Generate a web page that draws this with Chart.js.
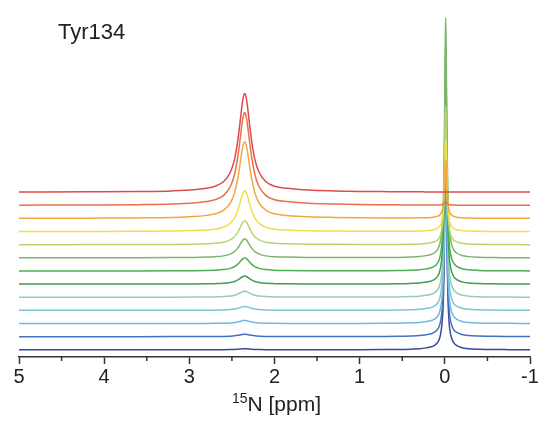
<!DOCTYPE html>
<html>
<head>
<meta charset="utf-8">
<title>Tyr134</title>
<script src="https://cdn.jsdelivr.net/npm/chart.js@4.4.1/dist/chart.umd.min.js"></script>
<style>
    html, body { margin: 0; padding: 0; background: #ffffff; }
    #wrap { width: 543px; height: 424px; }
</style>
</head>
<body>
<div id="wrap"><canvas id="spectra" width="543" height="424"></canvas></div>
<script>
// Chemical shift grid (ppm), shared by every trace
const ppm = [
    5.0, 4.2, 3.6, 3.2, 2.95, 2.8, 2.7, 2.6, 2.52, 2.47, 2.43, 2.40, 2.38, 2.36, 2.35,
    2.34, 2.32, 2.30, 2.27, 2.23, 2.18, 2.10, 2.0, 1.85, 1.6, 1.3, 1.0, 0.75, 0.55,
    0.4, 0.3, 0.22, 0.16, 0.12, 0.09, 0.065, 0.045, 0.03, 0.02, 0.01, 0.005, 0.0,
    -0.005, -0.01, -0.015, -0.02, -0.025, -0.035, -0.05, -0.07, -0.1, -0.14, -0.2,
    -0.28, -0.4, -0.55, -0.75, -1.0
];

// Line shape of the 2.35 ppm signal, normalised to its top
const shape235 = [
    0.002, 0.004, 0.007, 0.013, 0.024, 0.04, 0.06, 0.105, 0.2, 0.33, 0.53, 0.74, 0.89, 0.985, 1,
    0.985, 0.89, 0.74, 0.53, 0.33, 0.2, 0.105, 0.06, 0.04, 0.022, 0.013, 0.008, 0.006, 0.005,
    0.004, 0.004, 0.003, 0.003, 0.003, 0.003, 0.002, 0.002, 0.002, 0.002, 0.002, 0.002, 0.002,
    0.002, 0.002, 0.002, 0.002, 0.002, 0.002, 0.002, 0.002, 0.002, 0.001, 0.001,
    0.001, 0.001, 0.001, 0.001, 0.001
];

// Line shape of the 0 ppm signal, normalised to its top
const shape0 = [
    0, 0, 0, 0, 0, 0, 0, 0, 0, 0, 0, 0, 0, 0, 0,
    0, 0, 0, 0, 0, 0, 0, 0, 0, 0.0002, 0.0003, 0.0004, 0.0007, 0.0013,
    0.003, 0.005, 0.009, 0.014, 0.021, 0.032, 0.05, 0.085, 0.14, 0.21, 0.36, 0.5, 0.69,
    0.9, 1, 0.9, 0.69, 0.5, 0.27, 0.13, 0.07, 0.036, 0.02, 0.01,
    0.005, 0.0025, 0.0013, 0.0007, 0.0004
];

// Peak heights per trace, bottom (first) to top (last), in stack units
const height235 = [0.08, 0.19, 0.23, 0.3, 0.46, 0.61, 0.99, 1.44, 1.82, 3.11, 5.85, 7.06, 7.52];
const height0 = [16, 16, 16, 16, 16.5, 17.2, 17.5, 18.3, 10.6, 7, 4.5, 0.3, 0];

// vertical shift between neighbouring traces
const stackStep = 1;

const xTicksMajor = [5, 4, 3, 2, 1, 0, -1];
const xTicksMinor = [4.5, 3.5, 2.5, 1.5, 0.5, -0.5];

const traceColors = [
    '#3b4a96', '#4470c0', '#72b6e8', '#7cc4d4', '#8fd0b0', '#3e9e58', '#4caf50',
    '#7fb56e', '#bcd46e', '#eee045', '#f2a640', '#ec6f4a', '#dd4b4b'
];

const FONT = "'Liberation Sans', Arial, Helvetica, sans-serif";

// builds the points of one stacked trace
function buildTrace(i) {
    return ppm.map((x, k) => ({
        x: x,
        y: i * stackStep + height235[i] * shape235[k] + height0[i] * shape0[k]
    }));
}

const datasets = height0.map((h, i) => ({
    data: buildTrace(i),
    borderColor: traceColors[i],
    borderWidth: 1.5,
    pointRadius: 0,
    fill: false,
    cubicInterpolationMode: 'monotone',
    order: height0.length - 1 - i   // upper traces drawn over lower ones
}));

// minor ticks, the label in the corner and the axis title with superscript
const decorations = {
    id: 'decorations',
    afterDraw(chart) {
        const ctx = chart.ctx;
        const xs = chart.scales.x;
        const bottom = chart.chartArea.bottom;

        ctx.save();
        ctx.strokeStyle = '#333';
        ctx.lineWidth = 1.5;
        xTicksMinor.forEach(v => {
            const px = xs.getPixelForValue(v);
            ctx.beginPath();
            ctx.moveTo(px, bottom);
            ctx.lineTo(px, bottom + 4);
            ctx.stroke();
        });

        ctx.fillStyle = '#222';
        ctx.textBaseline = 'alphabetic';
        ctx.textAlign = 'left';
        ctx.font = '22px ' + FONT;
        ctx.fillText('Tyr134', 58, 39);

        // "15N [ppm]" centred under the axis
        const sup = '15';
        const main = 'N [ppm]';
        ctx.font = '14px ' + FONT;
        const wSup = ctx.measureText(sup).width;
        ctx.font = '21px ' + FONT;
        const wMain = ctx.measureText(main).width;
        const cx = (chart.chartArea.left + chart.chartArea.right) / 2 + 2;
        const x0 = cx - (wSup + wMain) / 2;
        const base = 411;
        ctx.font = '14px ' + FONT;
        ctx.fillText(sup, x0, base - 8);
        ctx.font = '21px ' + FONT;
        ctx.fillText(main, x0 + wSup, base);
        ctx.restore();
    }
};

new Chart(document.getElementById('spectra').getContext('2d'), {
    type: 'line',
    data: { datasets: datasets },
    options: {
        responsive: false,
        animation: false,
        layout: { padding: { left: 19, right: 13, top: 4, bottom: 34 } },
        plugins: {
            legend: { display: false },
            tooltip: { enabled: false }
        },
        scales: {
            x: {
                type: 'linear',
                reverse: true,
                min: -1,
                max: 5,
                afterBuildTicks(scale) {
                    scale.ticks = xTicksMajor.map(v => ({ value: v }));
                },
                ticks: {
                    autoSkip: false,
                    maxRotation: 0,
                    padding: 1,
                    color: '#222',
                    font: { family: FONT, size: 20 }
                },
                grid: {
                    drawOnChartArea: false,
                    tickLength: 7,
                    tickColor: '#333',
                    tickWidth: 1.5
                },
                border: { color: '#333', width: 1.5 }
            },
            y: {
                display: false,
                min: -0.55,
                max: 26.33
            }
        }
    },
    plugins: [decorations]
});
</script>
</body>
</html>
